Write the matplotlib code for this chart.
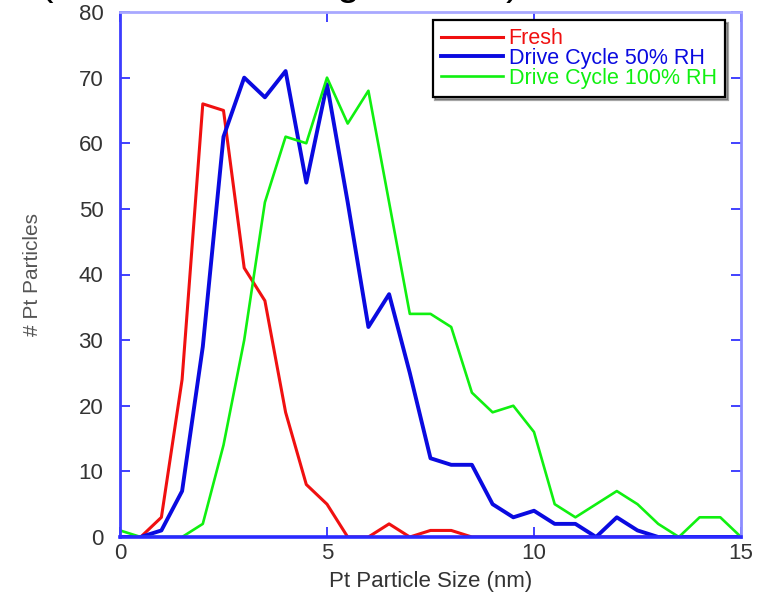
import matplotlib
matplotlib.use('Agg')
import matplotlib.pyplot as plt

plt.rcParams['font.family'] = ['Liberation Sans', 'DejaVu Sans']

# Particle size bins (nm)
size_nm = [0, 0.5, 1, 1.5, 2, 2.5, 3, 3.5, 4, 4.5, 5, 5.5, 6, 6.5, 7, 7.5,
           8, 8.5, 9, 9.5, 10, 10.5, 11, 11.5, 12, 12.5, 13, 13.5, 14, 14.5, 15]

# Particle counts per bin
fresh = [0, 0, 3, 24, 66, 65, 41, 36, 19, 8, 5, 0, 0, 2, 0, 1,
         1, 0, 0, 0, 0, 0, 0, 0, 0, 0, 0, 0, 0, 0, 0]
drive_50rh = [0, 0, 1, 7, 29, 61, 70, 67, 71, 54, 69, 51, 32, 37, 25, 12,
              11, 11, 5, 3, 4, 2, 2, 0, 3, 1, 0, 0, 0, 0, 0]
drive_100rh = [1, 0, 0, 0, 2, 14, 30, 51, 61, 60, 70, 63, 68, 51, 34, 34,
               32, 22, 19, 20, 16, 5, 3, 5, 7, 5, 2, 0, 3, 3, 0]

labels = ['Fresh', 'Drive Cycle 50% RH', 'Drive Cycle 100% RH']

fig = plt.figure(figsize=(7.66, 6.03), dpi=100)
ax = fig.add_axes([120 / 766, 66 / 603, 621 / 766, 525 / 603])

ax.plot(size_nm, fresh, color='#f01010', lw=2.2, label=labels[0])
ax.plot(size_nm, drive_50rh, color='#0a0ae0', lw=2.8, label=labels[1])
ax.plot(size_nm, drive_100rh, color='#10f010', lw=1.9, label=labels[2])

ax.set_xlim(0, 15)
ax.set_ylim(0, 80)
ax.set_xticks([0, 5, 10, 15])
ax.set_yticks(range(0, 90, 10))

# blue frame with inward ticks on every side
for side, col, lw in [('left', '#3c3cff', 2.0), ('bottom', '#2a2aff', 2.6),
                      ('top', '#a8a8ff', 2.0), ('right', '#8c8cff', 2.0)]:
    ax.spines[side].set_color(col)
    ax.spines[side].set_linewidth(lw)
ax.tick_params(direction='in', top=True, right=True, length=7, width=1.4,
               color='#4040ff', labelsize=16, labelcolor='#333333')
ax.tick_params(axis='y', pad=12)
ax.tick_params(axis='x', pad=4)

ax.set_xlabel('Pt Particle Size (nm)', fontsize=16, color='#333333', labelpad=5)
ax.set_ylabel('# Pt Particles', fontsize=15, color='#555555', labelpad=26)

leg = ax.legend(loc='upper right', bbox_to_anchor=(0.974, 0.985),
                fontsize=15.5, frameon=True, fancybox=False, shadow=True,
                edgecolor='black', handlelength=2.9, handletextpad=0.25,
                labelspacing=-0.05, borderpad=0.38, borderaxespad=0,
                labelcolor='linecolor')
leg.get_frame().set_linewidth(1.6)

# heading line sitting above the top edge
fig.text(40 / 766, 1 + 5 / 603, '(Pt Particle Sizing Results)', fontsize=29.2,
         ha='left', va='baseline', color='black')

fig.savefig('out.png', dpi=100)
